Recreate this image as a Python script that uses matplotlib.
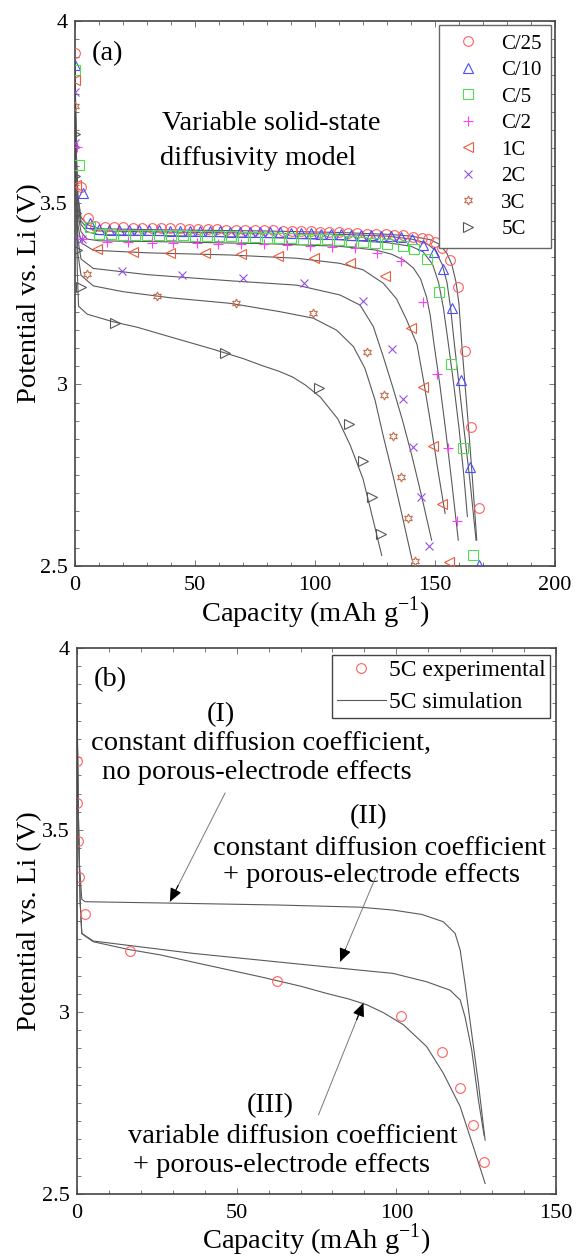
import matplotlib
matplotlib.use('Agg')
import matplotlib.pyplot as plt
from matplotlib.ticker import MultipleLocator, FormatStrFormatter

plt.rcParams['font.family'] = ['Liberation Serif', 'DejaVu Serif']
plt.rcParams['mathtext.fontset'] = 'custom'
plt.rcParams['mathtext.rm'] = 'Liberation Serif'

# ---------------- data ----------------
# panel (a) experimental points (capacity mAh/g, potential V)
x_c25 = [0, 2.4, 5.5, 8.5, 12.4, 16.3, 20.2, 24.1, 28.0, 31.9, 35.8, 39.7, 43.6, 47.5, 51.4, 55.3,
         59.2, 63.1, 67.0, 70.9, 74.8, 78.7, 82.6, 86.5, 90.4, 94.3, 98.2, 102.1, 106.0, 109.9, 113.8,
         117.7, 121.6, 125.5, 129.4, 133.1, 136.8, 141.0, 144.4, 147.2, 150.0, 152.8, 156.3, 159.4,
         162.4, 165.1, 168.2]
v_c25 = [3.911, 3.544, 3.457, 3.436, 3.433, 3.432, 3.432, 3.431, 3.431, 3.430, 3.430, 3.429, 3.429,
         3.428, 3.428, 3.427, 3.427, 3.426, 3.426, 3.425, 3.425, 3.424, 3.424, 3.423, 3.423, 3.422,
         3.421, 3.420, 3.419, 3.418, 3.417, 3.416, 3.415, 3.414, 3.413, 3.412, 3.411, 3.405, 3.402,
         3.399, 3.393, 3.374, 3.342, 3.267, 3.093, 2.882, 2.660]

x_c10 = [0, 3.5, 6.3, 10.0, 14.2, 18.4, 22.6, 26.8, 31.0, 35.2, 39.4, 43.6, 47.8, 52.0, 56.2, 60.4,
         64.6, 68.8, 73.0, 77.2, 81.4, 85.6, 89.8, 94.0, 98.2, 102.4, 106.6, 110.8, 115.0, 119.2,
         123.4, 127.6, 131.8, 136.0, 140.5, 145.1, 149.7, 153.5, 157.2, 160.8, 164.6, 168.5]
v_c10 = [3.879, 3.527, 3.445, 3.427, 3.426, 3.426, 3.425, 3.425, 3.424, 3.424, 3.423, 3.423, 3.422,
         3.422, 3.421, 3.421, 3.420, 3.420, 3.419, 3.419, 3.418, 3.418, 3.417, 3.417, 3.416, 3.415,
         3.414, 3.413, 3.412, 3.411, 3.410, 3.409, 3.408, 3.406, 3.400, 3.383, 3.365, 3.317, 3.209,
         3.012, 2.773, 2.503]

x_c5 = [0, 1.8, 6.2, 10, 15, 20, 25, 30, 35, 40, 45, 50, 55, 60, 65, 70, 75, 80, 85, 90, 95, 100,
        105, 110, 115, 120, 125, 130, 136.8, 141.3, 146.5, 151.5, 156.7, 161.8, 165.7]
v_c5 = [3.865, 3.604, 3.434, 3.414, 3.413, 3.412, 3.412, 3.411, 3.411, 3.410, 3.410, 3.409, 3.409,
        3.408, 3.407, 3.406, 3.405, 3.404, 3.403, 3.402, 3.401, 3.400, 3.399, 3.397, 3.395, 3.393,
        3.390, 3.386, 3.381, 3.372, 3.344, 3.255, 3.056, 2.824, 2.530]

x_c2 = [0.7, 2.8, 13.2, 22.2, 32.0, 41.0, 50.7, 59.6, 69.3, 78.8, 88.3, 97.8, 107.2, 116.6, 125.7,
        135.7, 144.8, 151.0, 155.3, 159.0]
v_c2 = [3.654, 3.399, 3.391, 3.391, 3.390, 3.389, 3.388, 3.387, 3.386, 3.385, 3.384, 3.382, 3.379,
        3.374, 3.362, 3.340, 3.227, 3.028, 2.824, 2.624]

x_1c = [0, 0.3, 9.0, 24.3, 39.6, 54.2, 69.2, 84.7, 99.6, 114.6, 129.2, 140.0, 144.9, 149.3, 152.8, 155.8]
v_1c = [3.838, 3.550, 3.372, 3.365, 3.362, 3.361, 3.359, 3.353, 3.347, 3.335, 3.298, 3.154, 2.992,
        2.831, 2.670, 2.512]

x_2c = [0, 0, 2.8, 19.4, 44.4, 69.9, 95.4, 120.1, 132.2, 136.8, 140.7, 144.0, 147.6]
v_2c = [3.805, 3.663, 3.399, 3.313, 3.301, 3.294, 3.280, 3.229, 3.096, 2.960, 2.828, 2.690, 2.555]

x_3c = [0, 4.9, 34.3, 67.0, 99.0, 121.8, 128.8, 132.6, 135.7, 138.9, 141.7]
v_3c = [3.766, 3.304, 3.244, 3.225, 3.195, 3.090, 2.972, 2.858, 2.746, 2.631, 2.514]

x_5c = [0, 0, 0.4, 0.7, 2.6, 16.5, 62.5, 101.5, 114.3, 119.9, 123.9, 127.3]
v_5c = [3.690, 3.573, 3.471, 3.370, 3.268, 3.168, 3.085, 2.990, 2.891, 2.790, 2.689, 2.588]

# panel (a) simulations
sx_c25 = [0, 0.5, 1.2, 2.5, 5, 10, 40, 80, 110, 130, 140, 148, 152, 155, 157, 158.8, 160, 161.1,
          162.5, 164, 165.7, 167.4]
sv_c25 = [3.89, 3.65, 3.52, 3.46, 3.44, 3.428, 3.425, 3.422, 3.418, 3.413, 3.408, 3.398, 3.385,
          3.36, 3.33, 3.28, 3.22, 3.115, 3.00, 2.88, 2.73, 2.571]
sx_c10 = [0, 0.5, 1.2, 2.5, 5, 10, 40, 80, 110, 130, 140, 146, 150, 153, 155, 156.5, 158, 160,
          162.2, 164.8, 167.1]
sv_c10 = [3.88, 3.64, 3.51, 3.45, 3.43, 3.422, 3.419, 3.416, 3.413, 3.408, 3.40, 3.39, 3.37, 3.33,
          3.28, 3.21, 3.115, 3.00, 2.87, 2.72, 2.571]
sx_c5 = [0, 0.5, 1.2, 2.5, 5, 10, 40, 80, 110, 130, 140, 145, 149, 151.5, 153.5, 155.5, 157.8,
         160, 162, 163.5]
sv_c5 = [3.87, 3.62, 3.49, 3.44, 3.42, 3.412, 3.409, 3.404, 3.398, 3.39, 3.38, 3.365, 3.33, 3.28,
         3.21, 3.115, 3.00, 2.88, 2.75, 2.636]
sx_c2 = [0, 0.5, 1.2, 2.5, 5, 10, 40, 80, 110, 125, 132, 137, 141, 144, 146.5, 148, 149.5, 152,
         154.5, 157, 159.7]
sv_c2 = [3.86, 3.6, 3.47, 3.42, 3.40, 3.395, 3.392, 3.387, 3.38, 3.37, 3.358, 3.342, 3.32, 3.29,
         3.24, 3.19, 3.115, 3.00, 2.87, 2.73, 2.571]
sx_1c = [0, 0.5, 1.2, 2.5, 7.6, 30, 64.6, 92.4, 110.4, 120.1, 128.5, 134, 138, 142.5, 145.5, 148.5,
         151.3, 154.2]
sv_1c = [3.86, 3.58, 3.44, 3.39, 3.369, 3.362, 3.356, 3.347, 3.333, 3.315, 3.278, 3.235, 3.18, 3.11,
         3.00, 2.88, 2.76, 2.645]
sx_2c = [0, 0.5, 1.2, 2.5, 7.6, 30, 64.6, 92.4, 110.4, 118.8, 124.3, 128.5, 132.5, 136.5, 140.5,
         144.5, 148.6]
sv_2c = [3.85, 3.55, 3.40, 3.345, 3.319, 3.302, 3.285, 3.273, 3.246, 3.218, 3.159, 3.075, 2.99,
         2.90, 2.80, 2.69, 2.571]
sx_3c = [0, 0.5, 1.2, 2.5, 7.6, 20, 40, 64.6, 85.4, 99.3, 109, 116, 120.8, 125, 128.5, 132.6,
         136.1, 140.3]
sv_3c = [3.85, 3.52, 3.36, 3.30, 3.271, 3.255, 3.238, 3.223, 3.20, 3.182, 3.149, 3.104, 3.044,
         2.957, 2.856, 2.746, 2.645, 2.521]
# variable diffusivity 5C (also curve III in panel b)
sx_5c = [0, 0.5, 1.0, 1.5, 5.1, 16, 26, 40, 57.3, 70.0, 78.2, 85.0, 90.7, 96.0, 102.2, 109.5,
         114.7, 120, 124.1, 127.8]
sv_5c = [3.85, 3.5, 3.3, 3.215, 3.193, 3.172, 3.157, 3.13, 3.097, 3.071, 3.051, 3.036, 3.020, 2.998,
         2.965, 2.905, 2.832, 2.74, 2.63, 2.529]

# panel (b) other simulations
sx_I = [0, 0.3, 0.8, 1.5, 2.5, 30, 62.5, 88.6, 99, 108, 114.7, 118.4, 120, 121.5, 123.6, 125.7, 127.8]
sv_I = [3.85, 3.6, 3.4, 3.31, 3.303, 3.299, 3.294, 3.288, 3.28, 3.268, 3.248, 3.216, 3.17, 3.079,
        2.941, 2.804, 2.648]
sx_II = [0, 0.5, 1.0, 1.5, 5.1, 36.4, 78.2, 99, 109.5, 116.8, 120, 121.5, 123.6, 125.7, 127.5]
sv_II = [3.85, 3.5, 3.3, 3.216, 3.195, 3.161, 3.124, 3.106, 3.083, 3.06, 3.033, 2.987, 2.896,
         2.758, 2.66]

rates = ['C/25', 'C/10', 'C/5', 'C/2', '1C', '2C', '3C', '5C']
exp_x = [x_c25, x_c10, x_c5, x_c2, x_1c, x_2c, x_3c, x_5c]
exp_v = [v_c25, v_c10, v_c5, v_c2, v_1c, v_2c, v_3c, v_5c]
sim_x = [sx_c25, sx_c10, sx_c5, sx_c2, sx_1c, sx_2c, sx_3c, sx_5c]
sim_v = [sv_c25, sv_c10, sv_c5, sv_c2, sv_1c, sv_2c, sv_3c, sv_5c]
markers = ['o', '^', 's', '+', '<', 'x', (6, 1, 0), '>']
colors = ['#ff5e5e', '#4a4aff', '#4ee04e', '#ff3cff', '#ec5a3c', '#9450e6', '#c4714e', '#555555']
msizes = [7, 7, 6.5, 7, 7.5, 5.5, 6.5, 7.5]

line_col = '#5a5a5a'


def style_axes(ax, xmax):
    ax.set_xlim(0, xmax)
    ax.set_ylim(2.5, 4)
    ax.xaxis.set_major_locator(MultipleLocator(50))
    ax.xaxis.set_minor_locator(MultipleLocator(10))
    ax.yaxis.set_major_locator(MultipleLocator(0.5))
    ax.yaxis.set_minor_locator(MultipleLocator(0.05))
    ax.yaxis.set_major_formatter(FormatStrFormatter('%g'))
    ax.tick_params(which='both', direction='in', top=True, right=True, color='#777777', width=0.7)
    ax.tick_params(which='major', length=4)
    ax.tick_params(which='minor', length=3)
    ax.tick_params(axis='x', labelsize=16, pad=7)
    ax.tick_params(axis='y', labelsize=16, pad=5)
    for s in ax.spines.values():
        s.set_color('#444444')
        s.set_linewidth(1.2)
    ax.set_xlabel('Capacity (mAh g$^{-1}$)', fontsize=20.5)
    ax.set_ylabel('Potential vs. Li (V)', fontsize=20.5)


fig = plt.figure(figsize=(5.76, 12.56), dpi=100)

# ---------------- panel (a) ----------------
ax1 = fig.add_axes([75 / 576, 1 - 566 / 1256, 480 / 576, 545 / 1256])
for i in range(len(rates)):
    ax1.plot(sim_x[i], sim_v[i], color=line_col, lw=0.8, zorder=2)
for i in range(len(rates)):
    ax1.plot(exp_x[i], exp_v[i], linestyle='none', marker=markers[i], ms=msizes[i],
             mfc='none', mec=colors[i], mew=0.8, label=rates[i], zorder=3)
style_axes(ax1, 200)
ax1.xaxis.set_label_coords(0.5, -0.052)
ax1.yaxis.set_label_coords(-0.068, 0.5)

ax1.text(7.0, 3.893, '(a)', fontsize=20.5)
ax1.text(36.1, 3.70, 'Variable solid-state', fontsize=20.5)
ax1.text(35.4, 3.604, 'diffusivity model', fontsize=20.5)

leg1 = ax1.legend(loc='upper right', bbox_to_anchor=(0.992, 0.993), borderaxespad=0,
                  fontsize=15, frameon=True, fancybox=False, framealpha=1,
                  handlelength=1.9, handletextpad=0.65, labelspacing=0.33, borderpad=0.45)
leg1.get_frame().set_edgecolor('#666666')
leg1.get_frame().set_linewidth(1.0)

# ---------------- panel (b) ----------------
ax2 = fig.add_axes([77 / 576, 1 - 1194 / 1256, 479 / 576, 546 / 1256])
ax2.plot(sx_I, sv_I, color=line_col, lw=0.8)
ax2.plot(sx_II, sv_II, color=line_col, lw=0.8)
ax2.plot(sx_5c, sv_5c, color=line_col, lw=0.8, label='5C simulation')
ax2.plot(x_5c, v_5c, linestyle='none', marker='o', ms=7, mfc='none', mec='#ff5e5e', mew=0.8,
         label='5C experimental')
style_axes(ax2, 150)
ax2.xaxis.set_label_coords(0.5, -0.05)
ax2.yaxis.set_label_coords(-0.072, 0.5)

h, l = ax2.get_legend_handles_labels()
leg2 = ax2.legend([h[1], h[0]], [l[1], l[0]], loc='upper right', bbox_to_anchor=(0.9875, 0.987),
                  borderaxespad=0, fontsize=17, frameon=True, fancybox=False, framealpha=1,
                  handlelength=2.1, handletextpad=0.1, labelspacing=0.42, borderpad=0.2)
leg2.get_frame().set_edgecolor('#444444')
leg2.get_frame().set_linewidth(1.0)

ax2.text(5.1, 3.894, '(b)', fontsize=20.5)
ax2.text(40.6, 3.798, '(I)', fontsize=20.5)
ax2.text(4.3, 3.720, 'constant diffusion coefficient,', fontsize=20.5)
ax2.text(7.7, 3.639, 'no porous-electrode effects', fontsize=20.5)
ax2.text(85.5, 3.519, '(II)', fontsize=20.5)
ax2.text(42.5, 3.431, 'constant diffusion coefficient', fontsize=20.5)
ax2.text(45.8, 3.358, '+ porous-electrode effects', fontsize=20.5)
ax2.text(53.1, 2.726, '(III)', fontsize=20.5)
ax2.text(16.1, 2.639, 'variable diffusion coefficient', fontsize=20.5)
ax2.text(17.6, 2.561, '+ porous-electrode effects', fontsize=20.5)

# arrows: thin grey shaft with a small black head
arrows = [((46.4, 3.602), (29.1, 3.303)),
          ((93.5, 3.37), (82.4, 3.138)),
          ((75.6, 2.717), (89.7, 3.025))]
for (x0, y0), (x1, y1) in arrows:
    ax2.annotate('', xy=(x1, y1), xytext=(x0, y0),
                 arrowprops=dict(arrowstyle='-', color='#777777', lw=0.7,
                                 shrinkA=0, shrinkB=0))
    ax2.annotate('', xy=(x1, y1), xytext=(x1 + 0.15 * (x0 - x1), y1 + 0.15 * (y0 - y1)),
                 arrowprops=dict(arrowstyle='-|>,head_length=0.45,head_width=0.2', color='black',
                                 lw=0.8, mutation_scale=18, shrinkA=0, shrinkB=0))

fig.savefig('out.png', dpi=100)
